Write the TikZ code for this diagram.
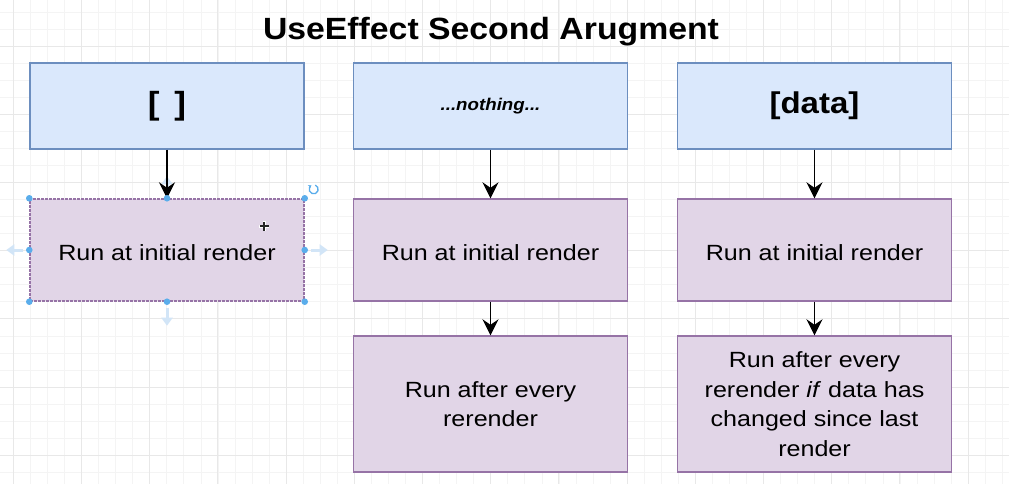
\documentclass[tikz,border=0pt]{standalone}
\usepackage{fontspec}
\setmainfont{Liberation Sans}
\newfontfamily\labfont[FakeStretch=1.14]{Liberation Sans}
\newfontfamily\ttlfont[FakeStretch=1.1]{Liberation Sans}
\usetikzlibrary{arrows.meta}
\definecolor{bluefill}{HTML}{DAE8FC}
\definecolor{bluedraw}{HTML}{6C8EBF}
\definecolor{purfill}{HTML}{E1D5E7}
\definecolor{purdraw}{HTML}{9673A6}
\definecolor{gridminor}{HTML}{F4F4F4}
\definecolor{gridmajor}{HTML}{E8E8E8}
\definecolor{handleblue}{HTML}{5AADEB}
\definecolor{hoverblue}{HTML}{D2E5F7}
\tikzset{
  minorline/.style={gridminor, line width=0.7pt},
  majorline/.style={gridmajor, line width=0.9pt},
  topbox/.style={draw=bluedraw, fill=bluefill, line width=1.4pt, minimum width=274pt, minimum height=86pt, inner sep=0pt},
  runbox/.style={draw=purdraw, fill=purfill, line width=1.4pt, minimum width=274pt, inner sep=0pt, align=center,
     font=\labfont\fontsize{22}{29.5}\selectfont},
  conn/.style={black, line width=1.8pt, -{Stealth[length=16pt, width=16pt, inset=5.5pt]}},
  handle/.style={fill=handleblue},
  hover/.style={hoverblue, line width=3pt, -{Triangle[length=8pt, width=11pt]}},
}
\begin{document}
\begin{tikzpicture}[x=1pt, y=-1pt]
\useasboundingbox (0,0) rectangle (1009,484);
\fill[white] (0,0) rectangle (1009,484);
% grid
\foreach \i in {0,...,59} { \draw[minorline] ({13.3+17.05*\i},0) -- ++(0,484); }
\foreach \i in {0,...,28} { \draw[minorline] (0,{11.9+17.05*\i}) -- ++(1009,0); }
\foreach \i in {0,...,14} { \draw[majorline] ({13.3+68.2*\i},0) -- ++(0,484); }
\foreach \i in {1,...,7} { \draw[majorline] (0,{-22.2+68.2*\i}) -- ++(1009,0); }

% title
\node[anchor=base, inner sep=0pt, font=\ttlfont\bfseries\fontsize{30.7}{36}\selectfont] (title) at (491,40) {UseEffect Second Arugment};

% top boxes
\node[topbox, font=\ttlfont\bfseries\fontsize{32}{36}\selectfont] (t1) at (167,106) {[\hspace{15pt}]};
\node[topbox, font=\ttlfont\bfseries\itshape\fontsize{17}{20}\selectfont] (t2) at (490.5,106) {...nothing...};
\node[topbox, font=\ttlfont\bfseries\fontsize{30}{36}\selectfont] (t3) at (814.5,106) {[data]};

% run boxes row 1
\node[runbox, minimum height=102pt, dashed, dash pattern=on 3pt off 1pt] (r1a) at (167,250) {\raisebox{-2.5pt}[\height][\depth]{Run at initial render}};
\node[runbox, minimum height=102pt] (r1b) at (490.5,250) {\raisebox{-2.5pt}[\height][\depth]{Run at initial render}};
\node[runbox, minimum height=102pt] (r1c) at (814.5,250) {\raisebox{-2.5pt}[\height][\depth]{Run at initial render}};

% run boxes row 2
\node[runbox, minimum height=136pt] (r2b) at (490.5,404) {Run after every\\rerender};
\node[runbox, minimum height=136pt] (r2c) at (814.5,404) {Run after every\\rerender \textit{if} data has\\changed since last\\render};

% selection decorations on r1a
\coordinate (hl1) at ([xshift=-6pt]r1a.west);
\coordinate (hl2) at ([xshift=-23pt]r1a.west);
\coordinate (hr1) at ([xshift=6pt]r1a.east);
\coordinate (hr2) at ([xshift=23pt]r1a.east);
\coordinate (hb1) at ([yshift=-6pt]r1a.south);
\coordinate (hb2) at ([yshift=-24pt]r1a.south);
\coordinate (ht1) at ([yshift=22pt]r1a.north);
\coordinate (ht2) at ([yshift=3pt]r1a.north);
\draw[hover] (hl1) -- (hl2);
\draw[hover] (hr1) -- (hr2);
\draw[hover] (hb1) -- (hb2);
\draw[hover] (ht2) -- (ht1);

% connectors
\draw[conn] (t1) -- (r1a);
\draw[conn] (t2) -- (r1b);
\draw[conn] (t3) -- (r1c);
\draw[conn] (r1b) -- (r2b);
\draw[conn] (r1c) -- (r2c);

\foreach \a in {north west, north, north east, west, east, south west, south, south east}
  { \fill[handle] (r1a.\a) circle (3.3pt); }
\coordinate (rot) at ([xshift=9pt, yshift=9pt]r1a.north east);
\draw[handleblue, line width=1.3pt, -{Stealth[length=3pt, width=4pt]}] ([shift={(70:4.5pt)}]rot) arc[start angle=70, end angle=-240, radius=4.5pt];
% cursor
\coordinate (cur) at (264,226);
\draw[white, line width=3pt] ([xshift=-5pt]cur) -- ([xshift=5pt]cur) ([yshift=-5pt]cur) -- ([yshift=5pt]cur);
\draw[black!85, line width=1.3pt] ([xshift=-4.5pt]cur) -- ([xshift=4.5pt]cur) ([yshift=-4.5pt]cur) -- ([yshift=4.5pt]cur);
\end{tikzpicture}
\end{document}
